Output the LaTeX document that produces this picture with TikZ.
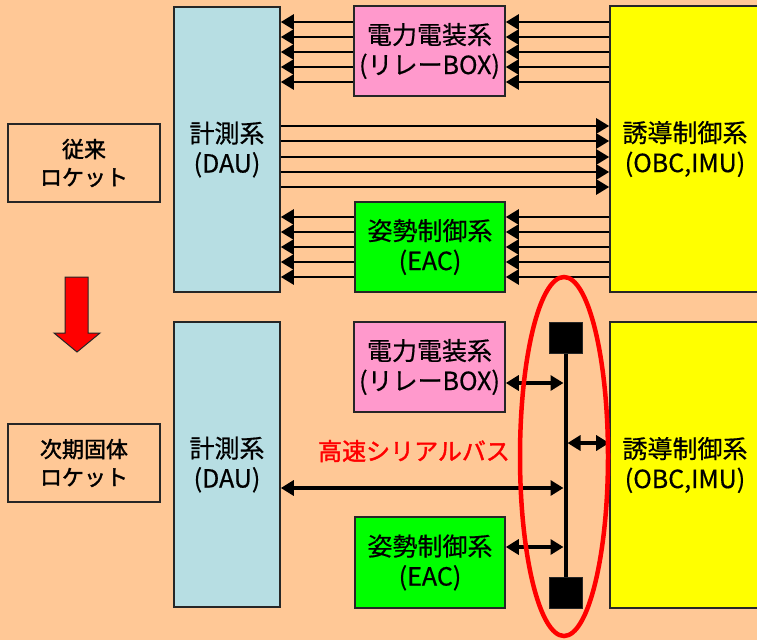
\documentclass[tikz,border=0pt]{standalone}
\usepackage{fontspec}
\setmainfont{Noto Sans CJK JP}[FakeBold=0.6]
\newfontfamily\heavyfont{Noto Sans CJK JP}[FakeBold=1.6]
\usetikzlibrary{arrows.meta,shapes.geometric}
\definecolor{bg}{HTML}{FFC896}
\definecolor{daucol}{HTML}{B7DEE3}
\definecolor{relaycol}{HTML}{FF99CC}
\definecolor{eaccol}{HTML}{00FF00}
\definecolor{obccol}{HTML}{FFFF00}
\begin{document}
\begin{tikzpicture}[x=1pt,y=-1pt,
  box/.style={draw=black!85, line width=1.6pt, inner sep=0pt, align=center,
    font=\fontsize{25}{30}\selectfont},
  labbox/.style={draw=black!85, line width=1.6pt, inner sep=0pt, align=center,
    minimum width=152pt, minimum height=78pt, font=\heavyfont\fontsize{22}{28}\selectfont},
  tarr/.style={line width=2.6pt, -{Triangle[length=13pt,width=15pt]}},
  barr/.style={line width=3.6pt, {Triangle[length=13pt,width=15pt]}-{Triangle[length=13pt,width=15pt]}},
  busq/.style={fill=black, draw=black!85, line width=1pt, minimum width=33pt, minimum height=31pt, inner sep=0pt}
]
\fill[bg] (0,0) rectangle (757,640);
\useasboundingbox (0,0) rectangle (757,640);

% ---- top (conventional)
\node[box, fill=daucol, minimum width=106pt, minimum height=285pt] (dau1) at (227,149.5) {計測系\\(DAU)};
\node[box, fill=relaycol, minimum width=151pt, minimum height=90pt] (relay1) at (429.5,51) {電力電装系\\(リレーBOX)};
\node[box, fill=eaccol, minimum width=150pt, minimum height=90pt] (eac1) at (430,247) {姿勢制御系\\(EAC)};
\node[box, fill=obccol, minimum width=150pt, minimum height=286pt] (obc1) at (685,149) {誘導制御系\\(OBC,IMU)};
\node[labbox] (lab1) at (84,163) {従来\\ロケット};

\foreach \yy in {22,37,52,67,82}{
  \draw[tarr] (relay1.west |- 0,\yy) -- (dau1.east |- 0,\yy);
  \draw[tarr] (obc1.west |- 0,\yy) -- (relay1.east |- 0,\yy);
}
\foreach \yy in {126,141,157,172,187}{
  \draw[tarr] (dau1.east |- 0,\yy) -- (obc1.west |- 0,\yy);
}
\foreach \yy in {217,232,247,262,277}{
  \draw[tarr] (eac1.west |- 0,\yy) -- (dau1.east |- 0,\yy);
  \draw[tarr] (obc1.west |- 0,\yy) -- (eac1.east |- 0,\yy);
}

% red transition arrow
\draw[fill=red, draw=black!85, line width=1pt] (65,277) -- (88,277) -- (88,333) -- (100,333) -- (77,352) -- (54,333) -- (65,333) -- cycle;

% ---- bottom (next solid rocket)
\node[box, fill=daucol, minimum width=106pt, minimum height=285pt] (dau2) at (227,464.5) {計測系\\(DAU)};
\node[box, fill=relaycol, minimum width=151pt, minimum height=90pt] (relay2) at (429.5,367) {電力電装系\\(リレーBOX)};
\node[box, fill=eaccol, minimum width=150pt, minimum height=91pt] (eac2) at (430,562.5) {姿勢制御系\\(EAC)};
\node[box, fill=obccol, minimum width=150pt, minimum height=286pt] (obc2) at (685,465) {誘導制御系\\(OBC,IMU)};
\node[labbox] (lab2) at (84,463) {次期固体\\ロケット};

\node[busq] (sqt) at (565.5,337.5) {};
\node[busq] (sqb) at (565.5,592.5) {};
\draw[line width=4pt] (sqt) -- (sqb);

\draw[barr] (relay2.east |- 0,383) -- ([xshift=-2pt]sqt.south |- 0,383);
\draw[barr] ([xshift=2pt]sqt.south |- 0,443) -- (obc2.west |- 0,443);
\draw[barr] (dau2.east |- 0,488) -- ([xshift=-2pt]sqt.south |- 0,488);
\draw[barr] (eac2.east |- 0,547) -- ([xshift=-2pt]sqt.south |- 0,547);

\node[text=red, font=\heavyfont\fontsize{24}{28}\selectfont] (busname) at (414,451) {高速シリアルバス};

\node[draw=red, line width=4.5pt, ellipse, inner sep=0pt, minimum width=88pt, minimum height=359pt] (hl) at (564,456.5) {};
\end{tikzpicture}
\end{document}
